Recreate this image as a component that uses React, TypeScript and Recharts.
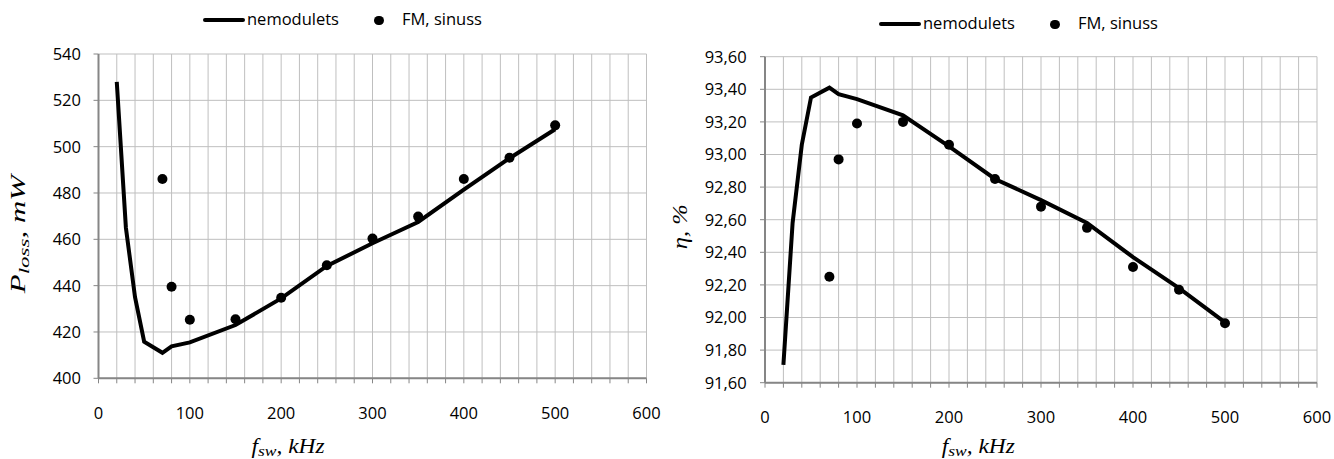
import {
  CartesianGrid,
  ComposedChart,
  Line,
  Scatter,
  XAxis,
  YAxis,
} from 'recharts';

// switching frequency, kHz
const freqLine = [20, 30, 40, 50, 70, 80, 100, 150, 200, 250, 300, 350, 400, 450, 500];
const freqDots = [70, 80, 100, 150, 200, 250, 300, 350, 400, 450, 500];

// losses, mW
const lossUnmodulated = [528, 465, 435, 415.8, 411, 413.8, 415.5, 423, 434.5, 448.5, 458.3, 467.5, 481.5, 495, 507.5];
const lossFmSine = [486, 439.5, 425.3, 425.5, 434.8, 448.8, 460.3, 469.8, 486, 495.2, 509.2];

// efficiency, %
const effUnmodulated = [91.71, 92.58, 93.06, 93.35, 93.41, 93.37, 93.34, 93.24, 93.05, 92.85, 92.72, 92.58, 92.37, 92.18, 91.97];
const effFmSine = [92.25, 92.97, 93.19, 93.2, 93.06, 92.85, 92.68, 92.55, 92.31, 92.17, 91.965];

const xTicks = Array.from({ length: 31 }, (_, i) => i * 20);
const lossTicks = [400, 420, 440, 460, 480, 500, 520, 540];
const effTicks = [91.6, 91.8, 92.0, 92.2, 92.4, 92.6, 92.8, 93.0, 93.2, 93.4, 93.6];

const lineLabel = 'nemodulets';
const dotLabel = 'FM, sinuss';

const SANS = "'Open Sans', sans-serif";
const SERIF = "'Liberation Serif', 'Times New Roman', serif";
const AXIS = '#868686';
const GRID = '#bfbfbf';

const toPoints = (xs: number[], ys: number[]) => xs.map((f, i) => ({ f, v: ys[i] }));

const tickStyle = { fontSize: 16.5, fontFamily: SANS, fill: '#000' };

function Dot(props: any) {
  return <circle cx={props.cx} cy={props.cy} r={5} fill="#000" />;
}

interface TitleProps {
  viewBox?: any;
  dx: number;
  dy: number;
  length: number;
}

// dx is measured from the left edge of the axis box
function FreqTitle({ viewBox, dx, dy, length }: TitleProps) {
  const x = viewBox.x + dx;
  const y = viewBox.y + dy;
  return (
    <text
      x={x}
      y={y}
      textAnchor="middle"
      fontFamily={SERIF}
      fontStyle="italic"
      fontSize={20}
      textLength={length}
      lengthAdjust="spacingAndGlyphs"
    >
      f
      <tspan fontSize={15} dy={3}>
        sw
      </tspan>
      <tspan dy={-3}>, kHz</tspan>
    </text>
  );
}

function LossTitle({ viewBox, dx, dy, length }: TitleProps) {
  const x = viewBox.x + dx;
  const y = viewBox.y + viewBox.height / 2 + dy;
  return (
    <text
      x={x}
      y={y}
      transform={`rotate(-90 ${x} ${y})`}
      textAnchor="middle"
      fontFamily={SERIF}
      fontStyle="italic"
      fontSize={20}
      textLength={length}
      lengthAdjust="spacingAndGlyphs"
    >
      P
      <tspan fontSize={15} dy={4}>
        loss
      </tspan>
      <tspan dy={-4}>, mW</tspan>
    </text>
  );
}

function EffTitle({ viewBox, dx, dy, length }: TitleProps) {
  const x = viewBox.x + dx;
  const y = viewBox.y + viewBox.height / 2 + dy;
  return (
    <text
      x={x}
      y={y}
      transform={`rotate(-90 ${x} ${y})`}
      textAnchor="middle"
      fontFamily={SERIF}
      fontStyle="italic"
      fontSize={20}
      textLength={length}
      lengthAdjust="spacingAndGlyphs"
    >
      η, %
    </text>
  );
}

function LegendRow({ left, top }: { left: number; top: number }) {
  return (
    <div style={{ position: 'absolute', left, top, height: 20, fontFamily: SANS, fontSize: 16.5, color: '#000' }}>
      <div style={{ position: 'absolute', left: 0, top: 8, width: 42, height: 4, background: '#000', borderRadius: 2 }} />
      <div style={{ position: 'absolute', left: 44, top: -2, whiteSpace: 'nowrap', lineHeight: '22px' }}>{lineLabel}</div>
      <div style={{ position: 'absolute', left: 171, top: 5.5, width: 9.5, height: 9.5, borderRadius: '50%', background: '#000' }} />
      <div style={{ position: 'absolute', left: 199, top: -2, whiteSpace: 'nowrap', lineHeight: '22px' }}>{dotLabel}</div>
    </div>
  );
}

const xTickFmt = (v: number) => (v % 100 === 0 ? String(v) : '');
const effFmt = (v: number) => v.toFixed(2).replace('.', ',');

export default function App() {
  const lossLine = toPoints(freqLine, lossUnmodulated);
  const lossDots = toPoints(freqDots, lossFmSine);
  const effLine = toPoints(freqLine, effUnmodulated);
  const effDots = toPoints(freqDots, effFmSine);

  return (
    <div style={{ position: 'absolute', left: 0, top: 0, width: 1334, height: 459, background: '#fff', overflow: 'hidden' }}>
      {/* losses */}
      <div style={{ position: 'absolute', left: 0, top: 0 }}>
        <ComposedChart width={667} height={459} margin={{ top: 54, right: 20.5, bottom: 0, left: 0 }}>
          <CartesianGrid stroke={GRID} strokeWidth={1} />
          <XAxis
            type="number"
            dataKey="f"
            domain={[0, 600]}
            ticks={xTicks}
            interval={0}
            tickFormatter={xTickFmt}
            height={80.7}
            tickSize={5}
            tickMargin={23.5}
            stroke={AXIS}
            axisLine={{ stroke: AXIS, strokeWidth: 2 }}
            tick={tickStyle}
            label={<FreqTitle dx={189.5} dy={74.5} length={73} />}
          />
          <YAxis
            type="number"
            dataKey="v"
            domain={[400, 540]}
            ticks={lossTicks}
            interval={0}
            width={98.5}
            tickSize={5}
            tickMargin={12.5}
            stroke={AXIS}
            axisLine={{ stroke: AXIS, strokeWidth: 2 }}
            tick={tickStyle}
            label={<LossTitle dx={25} dy={18} length={118} />}
          />
          <Line data={lossLine} dataKey="v" stroke="#000" strokeWidth={4} dot={false} isAnimationActive={false} />
          <Scatter data={lossDots} dataKey="v" shape={<Dot />} isAnimationActive={false} />
        </ComposedChart>
      </div>
      <LegendRow left={203} top={10} />

      {/* efficiency */}
      <div style={{ position: 'absolute', left: 667, top: 0 }}>
        <ComposedChart width={667} height={459} margin={{ top: 56.7, right: 17, bottom: 0, left: 0 }}>
          <CartesianGrid stroke={GRID} strokeWidth={1} />
          <XAxis
            type="number"
            dataKey="f"
            domain={[0, 600]}
            ticks={xTicks}
            interval={0}
            tickFormatter={xTickFmt}
            height={76.3}
            tickSize={5}
            tickMargin={23.5}
            stroke={AXIS}
            axisLine={{ stroke: AXIS, strokeWidth: 2 }}
            tick={tickStyle}
            label={<FreqTitle dx={213.3} dy={70} length={73} />}
          />
          <YAxis
            type="number"
            dataKey="v"
            domain={[91.6, 93.6]}
            ticks={effTicks}
            interval={0}
            width={98}
            tickSize={5}
            tickMargin={13.3}
            tickFormatter={effFmt}
            stroke={AXIS}
            axisLine={{ stroke: AXIS, strokeWidth: 2 }}
            tick={tickStyle}
            label={<EffTitle dx={20} dy={7} length={45} />}
          />
          <Line data={effLine} dataKey="v" stroke="#000" strokeWidth={4} dot={false} isAnimationActive={false} />
          <Scatter data={effDots} dataKey="v" shape={<Dot />} isAnimationActive={false} />
        </ComposedChart>
      </div>
      <LegendRow left={879} top={14} />
    </div>
  );
}
